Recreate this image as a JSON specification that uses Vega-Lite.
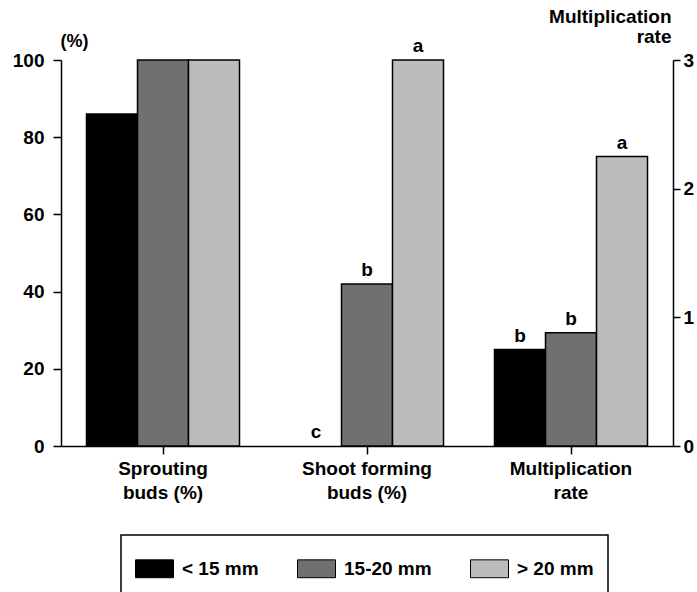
{
  "$schema": "https://vega.github.io/schema/vega-lite/v6.json",
  "width": 612,
  "height": 386,
  "autosize": {"type": "none"},
  "padding": {"left": 61, "top": 60, "right": 24, "bottom": 146},
  "config": {
    "font": "Liberation Sans",
    "view": {"stroke": null},
    "axis": {
      "domainColor": "black",
      "domainWidth": 1.5,
      "tickColor": "black",
      "tickWidth": 1.5,
      "labelColor": "black",
      "labelFont": "Liberation Sans",
      "labelFontWeight": "bold",
      "labelFontSize": 19,
      "titleColor": "black",
      "titleFont": "Liberation Sans",
      "titleFontWeight": "bold",
      "grid": false
    }
  },
  "data": {
    "values": [
      {"group": "Sprouting buds (%)", "size": "< 15 mm", "value": 86, "letter": ""},
      {"group": "Sprouting buds (%)", "size": "15-20 mm", "value": 100, "letter": ""},
      {"group": "Sprouting buds (%)", "size": "> 20 mm", "value": 100, "letter": ""},
      {"group": "Shoot forming buds (%)", "size": "< 15 mm", "value": 0, "letter": "c"},
      {"group": "Shoot forming buds (%)", "size": "15-20 mm", "value": 42, "letter": "b"},
      {"group": "Shoot forming buds (%)", "size": "> 20 mm", "value": 100, "letter": "a"},
      {"group": "Multiplication rate", "size": "< 15 mm", "value": 0.75, "letter": "b"},
      {"group": "Multiplication rate", "size": "15-20 mm", "value": 0.88, "letter": "b"},
      {"group": "Multiplication rate", "size": "> 20 mm", "value": 2.25, "letter": "a"}
    ]
  },
  "encoding": {
    "x": {
      "field": "group",
      "type": "nominal",
      "sort": ["Sprouting buds (%)", "Shoot forming buds (%)", "Multiplication rate"],
      "scale": {"paddingInner": 0.25, "paddingOuter": 0.125},
      "axis": {
        "title": null,
        "labelAngle": 0,
        "tickSize": 8,
        "labelPadding": 5,
        "labelBaseline": "top",
        "labelLineHeight": 24,
        "labelExpr": "datum.value == 'Sprouting buds (%)' ? ['Sprouting', 'buds (%)'] : datum.value == 'Shoot forming buds (%)' ? ['Shoot forming', 'buds (%)'] : ['Multiplication', 'rate']"
      }
    },
    "xOffset": {
      "field": "size",
      "type": "nominal",
      "sort": ["< 15 mm", "15-20 mm", "> 20 mm"],
      "scale": {"paddingInner": 0, "paddingOuter": 0}
    }
  },
  "layer": [
    {
      "transform": [{"filter": "datum.group != 'Multiplication rate'"}],
      "encoding": {
        "y": {
          "field": "value",
          "type": "quantitative",
          "scale": {"domain": [0, 100], "nice": false},
          "axis": {
            "orient": "left",
            "values": [0, 20, 40, 60, 80, 100],
            "tickSize": 8,
            "labelPadding": 9,
            "title": "(%)",
            "titleAngle": 0,
            "titleX": 13,
            "titleY": -14,
            "titleAlign": "center",
            "titleBaseline": "alphabetic",
            "titleFontSize": 18
          }
        }
      },
      "layer": [
        {
          "mark": {"type": "bar", "stroke": "black", "strokeWidth": 1.5},
          "encoding": {
            "strokeOpacity": {"condition": {"test": "datum.value == 0", "value": 0}, "value": 1},
            "fill": {
              "field": "size",
              "type": "nominal",
              "sort": ["< 15 mm", "15-20 mm", "> 20 mm"],
              "scale": {"domain": ["< 15 mm", "15-20 mm", "> 20 mm"], "range": ["#000000", "#707070", "#bcbcbc"]},
              "legend": {
                "title": null,
                "orient": "none",
                "legendX": 60,
                "legendY": 475,
                "direction": "horizontal",
                "symbolType": "M-1,-0.47H1V0.47H-1Z",
                "symbolSize": 1444,
                "symbolStrokeColor": "black",
                "symbolStrokeWidth": 1,
                "symbolOpacity": 1,
                "labelFont": "Liberation Sans",
                "labelFontSize": 19,
                "labelFontWeight": "bold",
                "labelColor": "black",
                "labelOffset": 8,
                "columnPadding": 36,
                "padding": 14,
                "strokeColor": "black",
                "encode": {"legend": {"update": {"strokeWidth": {"value": 1.5}}}}
              }
            }
          }
        },
        {
          "mark": {"type": "text", "dy": -8, "baseline": "alphabetic", "fontSize": 19, "fontWeight": "bold", "font": "Liberation Sans", "color": "black"},
          "encoding": {"text": {"field": "letter"}}
        }
      ]
    },
    {
      "transform": [{"filter": "datum.group == 'Multiplication rate'"}],
      "encoding": {
        "y": {
          "field": "value",
          "type": "quantitative",
          "scale": {"domain": [0, 3], "nice": false},
          "axis": {
            "orient": "right",
            "values": [0, 1, 2, 3],
            "tickSize": 7,
            "labelPadding": 3,
            "title": ["Multiplication", "rate"],
            "titleAngle": 0,
            "titleX": -2,
            "titleY": -38,
            "titleAlign": "right",
            "titleBaseline": "alphabetic",
            "titleLineHeight": 20,
            "titleFontSize": 19
          }
        }
      },
      "layer": [
        {
          "mark": {"type": "bar", "stroke": "black", "strokeWidth": 1.5},
          "encoding": {
            "fill": {"field": "size", "type": "nominal", "sort": ["< 15 mm", "15-20 mm", "> 20 mm"]}
          }
        },
        {
          "mark": {"type": "text", "dy": -8, "baseline": "alphabetic", "fontSize": 19, "fontWeight": "bold", "font": "Liberation Sans", "color": "black"},
          "encoding": {"text": {"field": "letter"}}
        }
      ]
    }
  ],
  "resolve": {"scale": {"y": "independent"}}
}
